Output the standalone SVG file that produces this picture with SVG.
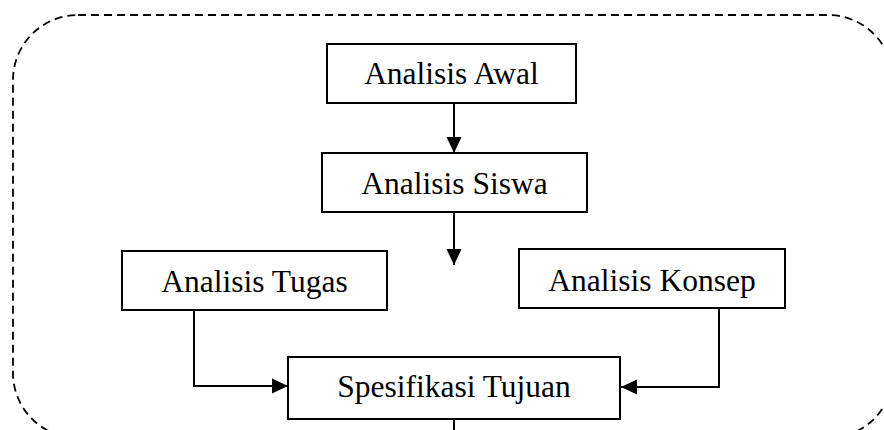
<svg xmlns="http://www.w3.org/2000/svg" width="884" height="430" viewBox="0 0 884 430">
<style>
.box{fill:#fff;stroke:#000;stroke-width:2}
.lbl{font-family:"Liberation Serif","Times New Roman",serif;font-size:31.5px;fill:#000;text-anchor:middle}
.con{fill:none;stroke:#000;stroke-width:2}
.frame{fill:none;stroke:#000;stroke-width:1.8;stroke-dasharray:8 5}
</style>
<defs>
<marker id="ah" markerUnits="userSpaceOnUse" markerWidth="16" markerHeight="16" viewBox="0 0 16 16" refX="16" refY="8" orient="auto">
<path d="M0,0.5 L16,8 L0,15.5 Z" fill="#000"/>
</marker>
</defs>
<rect class="frame" x="13" y="15" width="880" height="423" rx="65" ry="65"/>
<g id="connectors">
<line class="con" x1="454" y1="103" x2="454" y2="153" marker-end="url(#ah)"/>
<line class="con" x1="454" y1="212" x2="454" y2="265" marker-end="url(#ah)"/>
<polyline class="con" points="194,310 194,386 288,386" marker-end="url(#ah)"/>
<polyline class="con" points="719,308 719,387 621,387" marker-end="url(#ah)"/>
<line class="con" x1="454" y1="419" x2="454" y2="432"/>
</g>
<g id="analisis-awal">
<rect class="box" x="327" y="44" width="249" height="59"/>
<text class="lbl" x="451.5" y="84">Analisis Awal</text>
</g>
<g id="analisis-siswa">
<rect class="box" x="322" y="153" width="265" height="59"/>
<text class="lbl" x="454.5" y="194">Analisis Siswa</text>
</g>
<g id="analisis-tugas">
<rect class="box" x="122" y="251" width="265" height="59"/>
<text class="lbl" x="254.5" y="292">Analisis Tugas</text>
</g>
<g id="analisis-konsep">
<rect class="box" x="519" y="249" width="266" height="59"/>
<text class="lbl" x="652" y="291">Analisis Konsep</text>
</g>
<g id="spesifikasi-tujuan">
<rect class="box" x="288" y="357" width="332" height="62"/>
<text class="lbl" x="454" y="397">Spesifikasi Tujuan</text>
</g>
</svg>
